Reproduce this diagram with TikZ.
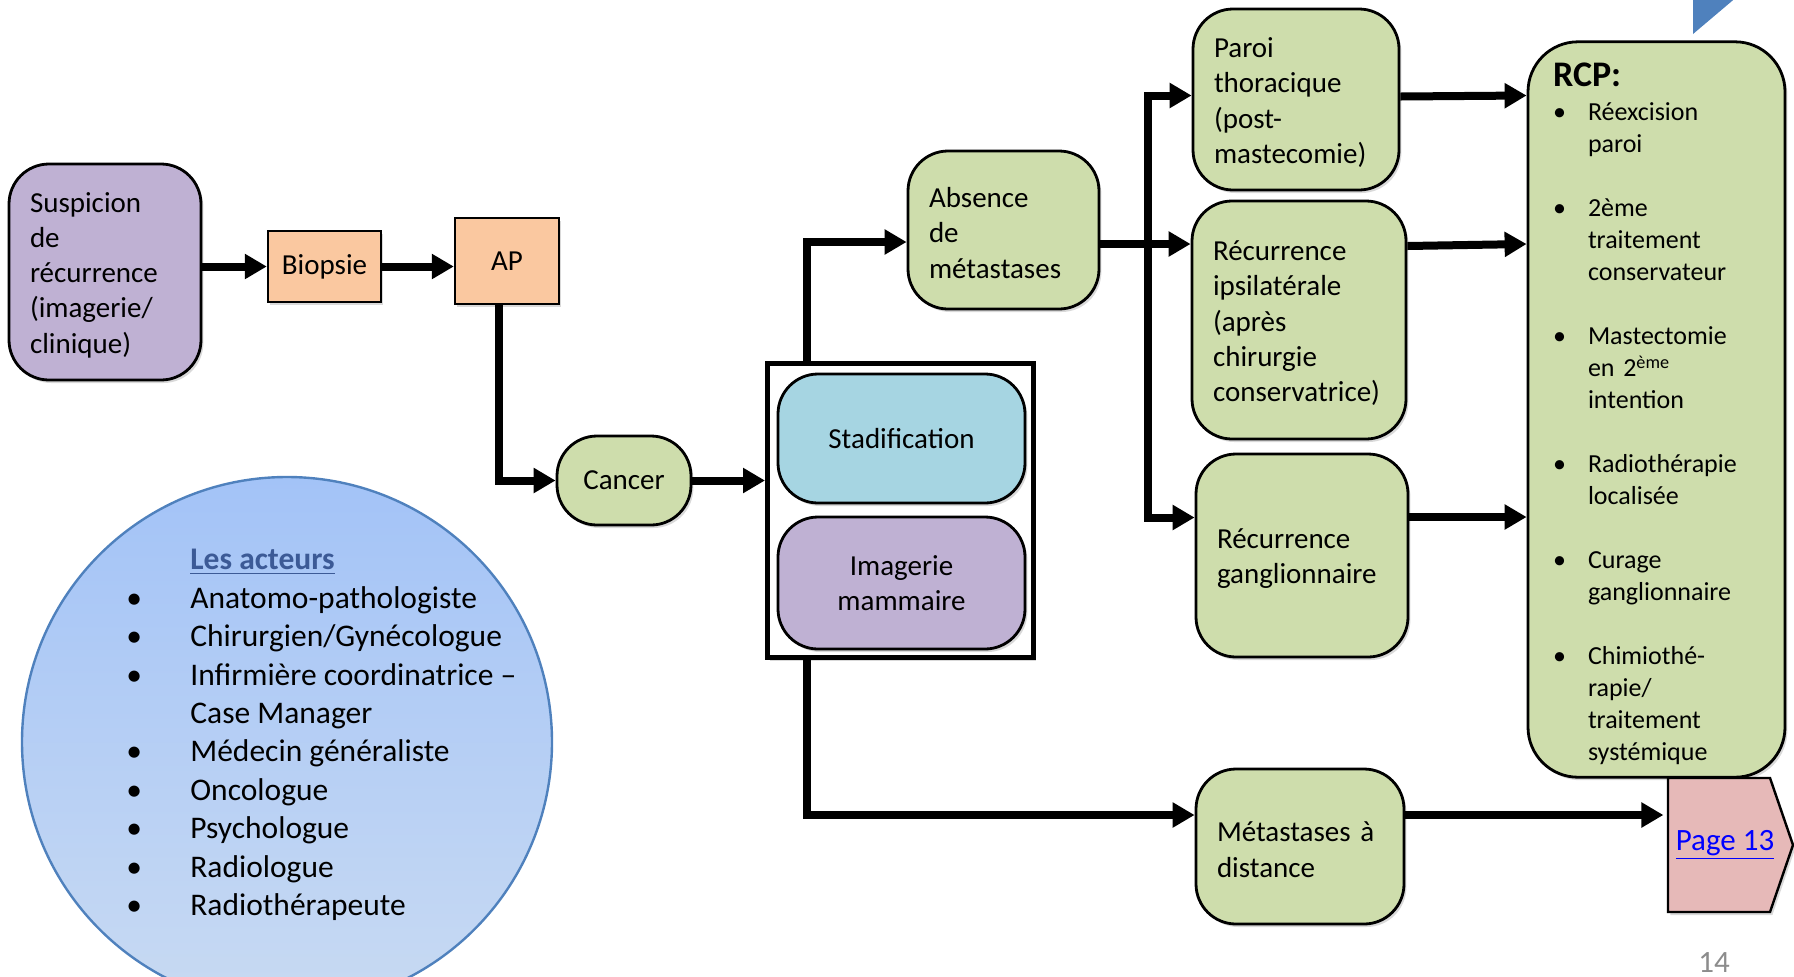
\documentclass[tikz,border=0pt]{standalone}
\usepackage{fontspec}
\setmainfont{Carlito}
\usetikzlibrary{arrows.meta,shadows}

\definecolor{vertboite}{RGB}{206,221,172}
\definecolor{mauve}{RGB}{191,177,211}
\definecolor{peche}{RGB}{250,200,160}
\definecolor{bleuciel}{RGB}{166,213,226}
\definecolor{rose}{RGB}{230,185,184}
\definecolor{bleutrait}{RGB}{79,129,189}
\definecolor{bleuhaut}{RGB}{163,195,247}
\definecolor{bleubas}{RGB}{200,218,242}
\definecolor{titreacteurs}{RGB}{60,90,150}

\begin{document}
\begin{tikzpicture}[x=0.5pt, y=-0.5pt,
    boite/.style={draw, line width=1.4pt, rounded corners=20pt, inner xsep=10.5pt, align=left,
      font=\fontsize{14.5}{17.6}\selectfont,
      drop shadow={shadow xshift=1.2pt, shadow yshift=-1.5pt, opacity=0.3}},
    gauche/.style={execute at begin node={\rule{0pt}{13pt}}},
    carre/.style={draw, line width=1.2pt, fill=peche, align=center,
      font=\fontsize{14.5}{17.6}\selectfont,
      drop shadow={shadow xshift=1.2pt, shadow yshift=-1.5pt, opacity=0.3}},
    fleche/.style={line width=4pt, -{Triangle[length=11pt,width=12pt]}}]

    % CADRE DE LA PAGE
    \useasboundingbox (0,0) rectangle (1794,976);
    \clip (0,0) rectangle (1794,976);
    \fill[bleutrait] (1693,-10) -- (1693,34) -- (1745,-10) -- cycle;

    % DEBUT DU PARCOURS
    \node[boite, gauche, fill=mauve, text width=75pt, minimum height=108pt] (susp) at (105,272)
        {Suspicion\\de\\récurrence\\(imagerie/\\clinique)};
    \node[carre, minimum width=56.5pt, minimum height=35.5pt] (biop) at (324.5,266.5) {Biopsie};
    \node[carre, minimum width=52pt, minimum height=43pt] (ap) at (507,261) {AP};
    \node[boite, fill=vertboite, align=center, minimum width=67pt, minimum height=44.5pt] (cancer) at (624,480.5) {Cancer};

    % BILAN (cadre noir avec deux boites)
    \node[draw, line width=2.5pt, fill=white, minimum width=133pt, minimum height=147pt,
        drop shadow={shadow xshift=1.2pt, shadow yshift=-1.5pt, opacity=0.3}] (cont) at (900.5,510.5) {};
    \node[boite, fill=bleuciel, align=center, minimum width=123.5pt, minimum height=64.5pt] (stadif) at (901.5,438.5) {Stadification};
    \node[boite, fill=mauve, align=center, minimum width=123.5pt, minimum height=66pt] (imag) at (901.5,583) {Imagerie\\mammaire};

    % SITUATIONS
    \node[boite, gauche, fill=vertboite, text width=74.5pt, minimum height=79pt] (absence) at (1003.5,230) {Absence\\de\\métastases};
    \node[boite, gauche, fill=vertboite, text width=82pt, minimum height=90.5pt] (paroi) at (1296,99.5)
        {Paroi\\thoracique\\(post-\\mastecomie)};
    \node[boite, gauche, fill=vertboite, text width=86pt, minimum height=119pt] (ipsi) at (1299,320)
        {Récurrence\\ipsilatérale\\(après\\chirurgie\\conservatrice)};
    \node[boite, gauche, fill=vertboite, text width=85pt, minimum height=101.5pt] (gangl) at (1302,555.5)
        {Récurrence\\ganglionnaire};
    \node[boite, gauche, fill=vertboite, text width=83pt, minimum height=77.5pt] (meta) at (1300,846.5)
        {Métastases à\\distance};

    % RCP
    \node[boite, fill=vertboite, rounded corners=25pt, text width=103.5pt, inner xsep=12.5pt,
        minimum height=361.5pt, font=\fontsize{13}{16}\selectfont] (rcp) at (1656.5,409.5) {%
        \begin{tabular}{@{}p{17.5pt}@{}l@{}}
        \multicolumn{2}{@{}l@{}}{\rule{0pt}{19pt}\fontsize{18}{18}\selectfont\bfseries RCP:}\\[1.25pt]
        \textbullet & Réexcision\\
         & paroi\\[16pt]
        \textbullet & 2ème\\
         & traitement\\
         & conservateur\\[16pt]
        \textbullet & Mastectomie\\
         & en 2\textsuperscript{ème}\\
         & intention\\[16pt]
        \textbullet & Radiothérapie\\
         & localisée\\[16pt]
        \textbullet & Curage\\
         & ganglionnaire\\[16pt]
        \textbullet & Chimiothé-\\
         & rapie/\\
         & traitement\\
         & systémique
        \end{tabular}};

    % RENVOI PAGE 13 (fleche pentagone)
    \filldraw[fill=rose, line width=1.2pt, drop shadow={shadow xshift=1.2pt, shadow yshift=-1.5pt, opacity=0.3}]
        (1668,778) -- (1770,778) -- (1793,845) -- (1770,912) -- (1668,912) -- cycle;
    \node[minimum width=51pt, minimum height=67pt, inner sep=0pt, font=\fontsize{15.5}{18}\selectfont] (page) at (1719,845)
        {\hspace*{6pt}\textcolor{blue}{\underline{Page 13}}};

    % FLECHES
    \draw[fleche] (susp.east |- biop.west) -- (biop.west);
    \draw[fleche] (biop.east) -- (biop.east -| ap.west);
    \draw[fleche] ([xshift=-4pt]ap.south) |- (cancer.west);
    \draw[fleche] (cancer.east) -- (cancer.east -| cont.west);
    \draw[fleche] ([xshift=-46.75pt]cont.north) |- ([yshift=-6pt]absence.west);
    \draw[fleche] ([xshift=-46.75pt]cont.south) |- ([yshift=15.75pt]meta.west);
    \draw[fleche] ([yshift=-7pt]absence.east) -- ([yshift=-7pt]absence.east -| ipsi.west);
    \coordinate (bus) at ([xshift=24pt,yshift=-7pt]absence.east);
    \draw[fleche] (bus) |- ([yshift=2pt]paroi.west);
    \draw[fleche] (bus) |- ([yshift=19pt]gangl.west);
    \draw[fleche] ([yshift=1.5pt]paroi.east) -- ([yshift=2pt]paroi.east -| rcp.west);
    \draw[fleche] ([yshift=37pt]ipsi.east) -- ([yshift=38pt]ipsi.east -| rcp.west);
    \draw[fleche] ([yshift=19.25pt]gangl.east) -- ([yshift=19.25pt]gangl.east -| rcp.west);
    \draw[fleche] ([yshift=15.75pt]meta.east) -- ([yshift=15.75pt]meta.east -| page.west);

    % LES ACTEURS
    \draw[line width=1.2pt, draw=bleutrait, top color=bleuhaut, bottom color=bleubas] (287,742) circle (132.5pt);
    \node[anchor=west, inner sep=0pt, align=left, font=\fontsize{15.75}{19.2}\selectfont] (acteurs) at (126,735) {%
        \begin{tabular}{@{}p{32pt}@{}l@{}}
         & \textcolor{titreacteurs}{\bfseries\underline{Les acteurs}}\\
        \textbullet & Anatomo-pathologiste\\
        \textbullet & Chirurgien/Gynécologue\\
        \textbullet & Infirmière coordinatrice –\\
         & Case Manager\\
        \textbullet & Médecin généraliste\\
        \textbullet & Oncologue\\
        \textbullet & Psychologue\\
        \textbullet & Radiologue\\
        \textbullet & Radiothérapeute
        \end{tabular}};

    % NUMERO DE PAGE
    \node[text=gray!90, font=\fontsize{15.5}{18}\selectfont] (numero) at (1714,963) {14};

\end{tikzpicture}
\end{document}
